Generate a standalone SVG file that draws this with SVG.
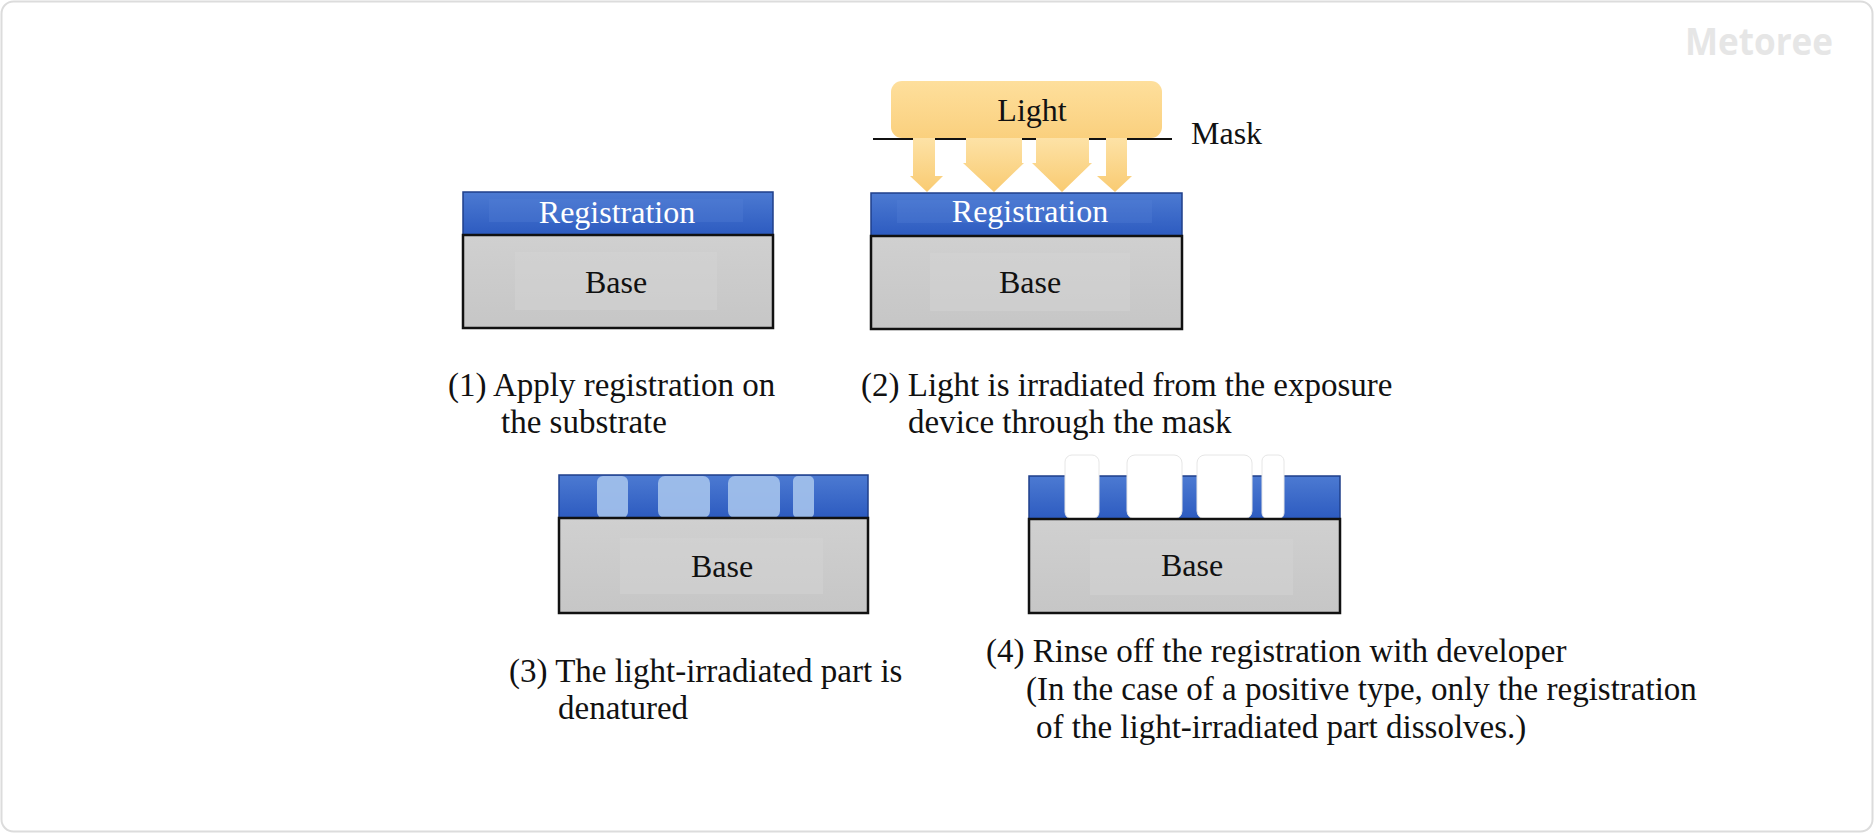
<svg xmlns="http://www.w3.org/2000/svg" width="1875" height="834" viewBox="0 0 1875 834">
  <defs>
    <linearGradient id="blueGrad" x1="0" y1="0" x2="0" y2="1">
      <stop offset="0" stop-color="#4C7AD2"/>
      <stop offset="1" stop-color="#2D5BC0"/>
    </linearGradient>
    <linearGradient id="grayGrad" x1="0" y1="0" x2="0" y2="1">
      <stop offset="0" stop-color="#D0D0D0"/>
      <stop offset="1" stop-color="#C6C6C6"/>
    </linearGradient>
    <linearGradient id="lightGrad" x1="0" y1="0" x2="0" y2="1">
      <stop offset="0" stop-color="#FEDF9C"/>
      <stop offset="1" stop-color="#FAD07E"/>
    </linearGradient>
    <linearGradient id="arrowGrad" x1="0" y1="0" x2="0" y2="1">
      <stop offset="0" stop-color="#FDE2A6"/>
      <stop offset="1" stop-color="#F9CB72"/>
    </linearGradient>
    <style>
      .serif { font-family: "Liberation Serif", "Times New Roman", serif; }
      .cap { font-family: "Liberation Serif", "Times New Roman", serif; font-size: 33px; fill: #111; }
      .lbl { font-family: "Liberation Serif", "Times New Roman", serif; font-size: 32px; text-anchor: middle; }
      .reg { fill: url(#blueGrad); stroke: #1F3F8A; stroke-width: 1.5; }
      .regInner { fill: #5582D6; opacity: 0.3; }
      .base { fill: url(#grayGrad); stroke: #111; stroke-width: 2.5; }
      .baseInner { fill: #D4D4D4; opacity: 0.45; }
      .patch { fill: #A3C1EC; opacity: 0.92; }
      .cut { fill: #FFFFFF; stroke: #E6E6E6; stroke-width: 1; }
      .arrow { fill: url(#arrowGrad); }
    </style>
  </defs>

  <rect x="1.5" y="1.5" width="1871" height="830" rx="12" fill="#FFFFFF" stroke="#DCDCDC" stroke-width="2"/>

  <g id="logo">
    <text x="1685" y="55" textLength="148" lengthAdjust="spacingAndGlyphs" font-family="'Open Sans', Inter, sans-serif" font-weight="700" font-size="37" fill="#E6E6E6">Metoree</text>
  </g>

  <!-- Panel 1 -->
  <g id="panel1">
    <rect class="reg" x="463" y="192" width="310" height="43"/>
    <rect class="regInner" x="489" y="199" width="254" height="23"/>
    <text class="lbl" x="617" y="223" fill="#FFFFFF">Registration</text>
    <rect class="base" x="463" y="235" width="310" height="93"/>
    <rect class="baseInner" x="515" y="252" width="202" height="58"/>
    <text class="lbl" x="616" y="293" fill="#111">Base</text>
  </g>
  <g id="caption1">
    <text class="cap" x="448" y="396">(1) Apply registration on</text>
    <text class="cap" x="501" y="433">the substrate</text>
  </g>

  <!-- Panel 2 -->
  <g id="panel2">
    <rect class="reg" x="871" y="193" width="311" height="43"/>
    <rect class="regInner" x="897" y="200" width="255" height="23"/>
    <text class="lbl" x="1030" y="222" fill="#FFFFFF">Registration</text>
    <rect class="base" x="871" y="236" width="311" height="93"/>
    <rect class="baseInner" x="930" y="253" width="200" height="58"/>
    <text class="lbl" x="1030" y="293" fill="#111">Base</text>
  </g>
  <g id="light">
    <rect x="891" y="81" width="271" height="57" rx="11" fill="url(#lightGrad)"/>
    <text class="lbl" x="1032" y="121" fill="#111">Light</text>
  </g>
  <g id="mask">
    <line x1="873" y1="139" x2="1172" y2="139" stroke="#111" stroke-width="2"/>
    <text class="serif" x="1191" y="144" font-size="32" fill="#111">Mask</text>
  </g>
  <g id="connectors">
    <polygon class="arrow" points="913,138 935,138 935,176 943,176 927,192 910,176 913,176"/>
    <polygon class="arrow" points="966,138 1022,138 1022,163 1024,163 994,192 963,163 966,163"/>
    <polygon class="arrow" points="1036,138 1089,138 1089,163 1092,163 1062,192 1032,163 1036,163"/>
    <polygon class="arrow" points="1106,138 1127,138 1127,176 1132,176 1115,192 1097,176 1106,176"/>
  </g>
  <g id="caption2">
    <text class="cap" x="861" y="396">(2) Light is irradiated from the exposure</text>
    <text class="cap" x="908" y="433">device through the mask</text>
  </g>

  <!-- Panel 3 -->
  <g id="panel3">
    <rect class="reg" x="559" y="475" width="309" height="43"/>
    <rect class="patch" x="597" y="476" width="31" height="42" rx="6"/>
    <rect class="patch" x="658" y="476" width="52" height="42" rx="7"/>
    <rect class="patch" x="728" y="476" width="52" height="42" rx="7"/>
    <rect class="patch" x="793" y="476" width="21" height="42" rx="5"/>
    <rect class="base" x="559" y="518" width="309" height="95"/>
    <rect class="baseInner" x="620" y="538" width="203" height="56"/>
    <text class="lbl" x="722" y="577" fill="#111">Base</text>
  </g>
  <g id="caption3">
    <text class="cap" x="509" y="682">(3) The light-irradiated part is</text>
    <text class="cap" x="558" y="719">denatured</text>
  </g>

  <!-- Panel 4 -->
  <g id="panel4">
    <rect class="reg" x="1029" y="476" width="311" height="43"/>
    <rect class="cut" x="1065" y="455" width="34" height="64" rx="7"/>
    <rect class="cut" x="1127" y="455" width="55" height="64" rx="8"/>
    <rect class="cut" x="1197" y="455" width="55" height="64" rx="8"/>
    <rect class="cut" x="1262" y="455" width="22" height="64" rx="6"/>
    <rect class="base" x="1029" y="519" width="311" height="94"/>
    <rect class="baseInner" x="1090" y="539" width="203" height="56"/>
    <text class="lbl" x="1192" y="576" fill="#111">Base</text>
  </g>
  <g id="caption4">
    <text class="cap" x="986" y="662">(4) Rinse off the registration with developer</text>
    <text class="cap" x="1026" y="700">(In the case of a positive type, only the registration</text>
    <text class="cap" x="1036" y="738">of the light-irradiated part dissolves.)</text>
  </g>
</svg>
